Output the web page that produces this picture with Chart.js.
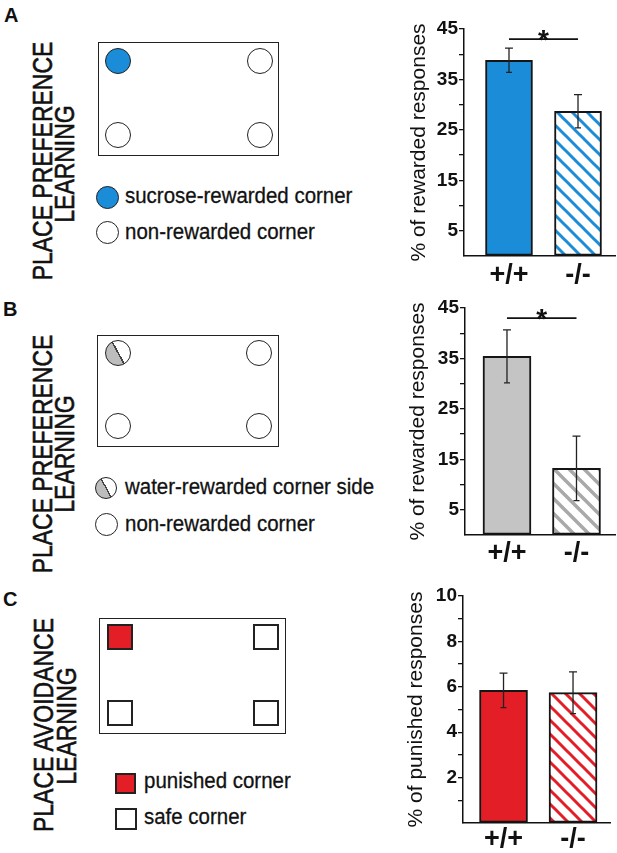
<!DOCTYPE html>
<html>
<head>
<meta charset="utf-8">
<script src="https://cdn.jsdelivr.net/npm/chart.js@4.4.0/dist/chart.umd.min.js"></script>
<style>
body{margin:0;background:#fff;}
#fig{position:relative;width:617px;height:853px;overflow:hidden;font-family:"Liberation Sans",Arial,sans-serif;color:#111;}
.letter{position:absolute;font-weight:bold;font-size:20px;line-height:1;}
.rot{position:absolute;white-space:nowrap;font-size:28px;line-height:1;-webkit-text-stroke:0.6px #111;transform:translate(-50%,-50%) rotate(-90deg) scaleX(0.82);}
.box{position:absolute;border:1.5px solid #222;box-sizing:border-box;}
.dot{position:absolute;border:1.7px solid #222;border-radius:50%;box-sizing:border-box;background:#fff;}
.sq{position:absolute;border:2px solid #222;box-sizing:border-box;background:#fff;}
.leg{position:absolute;white-space:nowrap;font-size:22px;line-height:1;-webkit-text-stroke:0.3px #111;transform:scaleX(0.93);transform-origin:0 0;}
.chart{position:absolute;left:400px;width:217px;}
</style>
</head>
<body>
<div id="fig">
  <!-- A -->
  <div class="letter" style="left:4px;top:5px">A</div>
  <div class="rot" style="left:43px;top:161px">PLACE PREFERENCE</div>
  <div class="rot" style="left:64.5px;top:163.5px">LEARNING</div>
  <div class="box" style="left:98px;top:42px;width:181px;height:114px"></div>
  <div class="dot" style="left:105px;top:48px;width:26px;height:26px;background:#1a8cd8"></div>
  <div class="dot" style="left:246.5px;top:48px;width:26px;height:26px"></div>
  <div class="dot" style="left:105px;top:121.5px;width:26px;height:26px"></div>
  <div class="dot" style="left:246.5px;top:121.5px;width:26px;height:26px"></div>
  <div class="dot" style="left:95.5px;top:185.5px;width:23px;height:23px;background:#1a8cd8"></div>
  <div class="leg" style="left:125px;top:185.4px">sucrose-rewarded corner</div>
  <div class="dot" style="left:95.5px;top:221px;width:23px;height:23px"></div>
  <div class="leg" style="left:125px;top:221px">non-rewarded corner</div>

  <!-- B -->
  <div class="letter" style="left:3px;top:299px">B</div>
  <div class="rot" style="left:43px;top:454px">PLACE PREFERENCE</div>
  <div class="rot" style="left:64.5px;top:453.5px">LEARNING</div>
  <div class="box" style="left:97px;top:335px;width:182px;height:112px"></div>
  <div class="dot" style="left:105px;top:340px;width:26px;height:26px;background:linear-gradient(61.5deg,#bdbdbd 48%,#444 48%,#444 53%,#fff 53%)"></div>
  <div class="dot" style="left:246px;top:340px;width:26px;height:26px"></div>
  <div class="dot" style="left:105px;top:413px;width:26px;height:26px"></div>
  <div class="dot" style="left:246px;top:413px;width:26px;height:26px"></div>
  <div class="dot" style="left:95px;top:476.5px;width:22px;height:22px;background:linear-gradient(61.5deg,#bdbdbd 48%,#444 48%,#444 53%,#fff 53%)"></div>
  <div class="leg" style="left:125px;top:476.4px">water-rewarded corner side</div>
  <div class="dot" style="left:95px;top:513px;width:23px;height:23px"></div>
  <div class="leg" style="left:125px;top:513px">non-rewarded corner</div>

  <!-- C -->
  <div class="letter" style="left:3px;top:589px">C</div>
  <div class="rot" style="left:44px;top:725px">PLACE AVOIDANCE</div>
  <div class="rot" style="left:66.5px;top:726px">LEARNING</div>
  <div class="box" style="left:99px;top:618px;width:187px;height:116px"></div>
  <div class="sq" style="left:107px;top:624px;width:26px;height:26px;background:#e31e26"></div>
  <div class="sq" style="left:253px;top:624px;width:26px;height:26px"></div>
  <div class="sq" style="left:107px;top:700px;width:26px;height:26px"></div>
  <div class="sq" style="left:253px;top:700px;width:26px;height:26px"></div>
  <div class="sq" style="left:115px;top:773px;width:21px;height:21px;background:#e31e26"></div>
  <div class="leg" style="left:144px;top:770.4px">punished corner</div>
  <div class="sq" style="left:115px;top:808px;width:22px;height:22px"></div>
  <div class="leg" style="left:144px;top:806.4px">safe corner</div>

  <div class="chart" style="top:0px;height:285px"><canvas id="chartA"></canvas></div>
  <div class="chart" style="top:285px;height:285px"><canvas id="chartB"></canvas></div>
  <div class="chart" style="top:570px;height:283px"><canvas id="chartC"></canvas></div>
</div>

<script>
// values
var categories = ['+/+', '-/-'];
var sucroseRewarded = [38.8, 28.7];
var sucroseErr = [2.4, 3.3];
var waterRewarded = [35.4, 13.2];
var waterErr = [5.25, 6.4];
var punishedResp = [5.84, 5.74];
var punishedErr = [0.76, 0.92];
var rewardTickLabels = [5, 15, 25, 35, 45];
var punishTickLabels = [2, 4, 6, 8, 10];
var sigLevel = 43; // height of the "*" bracket in panels A and B

var FONT = '"Liberation Sans", Arial, sans-serif';
var BLUE = '#1a8cd8', GREY = '#c4c4c4', RED = '#e31e26';

function hatch(color, size, width) {
    var c = document.createElement('canvas');
    c.width = c.height = size;
    var g = c.getContext('2d');
    g.fillStyle = '#fff';
    g.fillRect(0, 0, size, size);
    g.strokeStyle = color;
    g.lineWidth = width;
    for (var k = -1; k <= 1; k++) {
        g.beginPath();
        g.moveTo(-2, -2 + k * size);
        g.lineTo(size + 2, size + 2 + k * size);
        g.stroke();
    }
    return g.createPattern(c, 'repeat');
}

var errorBars = {
    id: 'errorBars',
    afterDatasetsDraw: function(chart, args, opts) {
        var ctx = chart.ctx, y = chart.scales.y;
        var bars = chart.getDatasetMeta(0).data;
        ctx.save();
        ctx.strokeStyle = '#222';
        ctx.lineWidth = 1.3;
        bars.forEach(function(bar, i) {
            var v = opts.values[i], e = opts.errors[i];
            var top = y.getPixelForValue(v + e), bot = y.getPixelForValue(v - e);
            ctx.beginPath();
            ctx.moveTo(bar.x, top); ctx.lineTo(bar.x, bot);
            ctx.moveTo(bar.x - 4, top); ctx.lineTo(bar.x + 4, top);
            ctx.moveTo(bar.x - 3, bot); ctx.lineTo(bar.x + 3, bot);
            ctx.stroke();
        });
        if (opts.sig) {
            var ly = y.getPixelForValue(opts.sig);
            ctx.lineWidth = 1.6;
            ctx.strokeStyle = '#111';
            ctx.beginPath();
            ctx.moveTo(bars[0].x, ly); ctx.lineTo(bars[1].x, ly);
            ctx.stroke();
            ctx.fillStyle = '#111';
            ctx.font = 'bold 28px ' + FONT;
            ctx.textAlign = 'center';
            ctx.textBaseline = 'alphabetic';
            ctx.fillText('*', (bars[0].x + bars[1].x) / 2, ly + 10);
        }
        ctx.restore();
    }
};

function barChart(id, cfg) {
    return new Chart(document.getElementById(id), {
        type: 'bar',
        data: {
            datasets: [{
                data: cfg.values.map(function(v, i) { return {x: i + 1, y: v}; }),
                backgroundColor: cfg.fills,
                borderColor: '#151515',
                borderWidth: 2,
                borderSkipped: false,
                barThickness: cfg.bw
            }]
        },
        options: {
            responsive: true,
            maintainAspectRatio: false,
            animation: false,
            layout: {padding: {top: cfg.top, right: cfg.right, left: 0, bottom: 0}},
            plugins: {
                legend: {display: false},
                tooltip: {enabled: false},
                errorBars: {values: cfg.values, errors: cfg.errors, sig: cfg.sig}
            },
            scales: {
                x: {
                    type: 'linear',
                    offset: false,
                    min: cfg.xmin,
                    max: cfg.xmax,
                    grid: {display: false, drawTicks: false, offset: false},
                    border: {display: true, color: '#111', width: 1.5},
                    afterBuildTicks: function(s) {
                        s.ticks = categories.map(function(c, i) { return {value: i + 1}; });
                    },
                    afterFit: function(s) { s.height = cfg.xh; },
                    ticks: {
                        callback: function(v) { return categories[v - 1]; },
                        color: '#111',
                        font: {size: 27, weight: 'bold', family: FONT},
                        padding: cfg.xpad,
                        maxRotation: 0,
                        autoSkip: false
                    }
                },
                y: {
                    min: 0,
                    max: cfg.ymax,
                    afterFit: function(s) { s.width = cfg.yw; },
                    grid: {
                        drawOnChartArea: false,
                        drawTicks: true,
                        tickLength: 5,
                        lineWidth: 1.3,
                        color: function(c) { return c.tick && c.tick.value === 0 ? 'rgba(0,0,0,0)' : '#111'; }
                    },
                    border: {display: true, color: '#111', width: 1.5},
                    ticks: {
                        stepSize: cfg.step,
                        autoSkip: false,
                        padding: 1,
                        color: '#111',
                        font: {size: 19, weight: 'bold', family: FONT},
                        callback: function(v) { return cfg.labels.indexOf(v) >= 0 ? v : ''; }
                    },
                    title: {
                        display: true,
                        text: cfg.title,
                        color: '#111',
                        font: {size: 21, family: FONT},
                        padding: {top: cfg.tpad, bottom: 0}
                    }
                }
            }
        },
        plugins: [errorBars]
    });
}

barChart('chartA', {
    values: sucroseRewarded, errors: sucroseErr, sig: sigLevel,
    fills: [BLUE, hatch(BLUE, 15, 3)],
    ymax: 45, step: 5, labels: rewardTickLabels,
    title: '% of rewarded responses',
    top: 29, right: 2, yw: 64, xh: 29, xpad: 3, tpad: 7,
    xmin: 0.348, xmax: 2.536, bw: 47
});

barChart('chartB', {
    values: waterRewarded, errors: waterErr, sig: sigLevel,
    fills: [GREY, hatch('#a9a9a9', 15, 3.5)],
    ymax: 45, step: 5, labels: rewardTickLabels,
    title: '% of rewarded responses',
    top: 23, right: 2, yw: 65, xh: 35, xpad: 2, tpad: 6,
    xmin: 0.396, xmax: 2.554, bw: 48
});

barChart('chartC', {
    values: punishedResp, errors: punishedErr, sig: null,
    fills: [RED, hatch(RED, 14, 3)],
    ymax: 10, step: 1, labels: punishTickLabels,
    title: '% of punished responses',
    top: 26, right: 7, yw: 63, xh: 30, xpad: 0, tpad: 4,
    xmin: 0.417, xmax: 2.532, bw: 48
});
</script>
</body>
</html>
